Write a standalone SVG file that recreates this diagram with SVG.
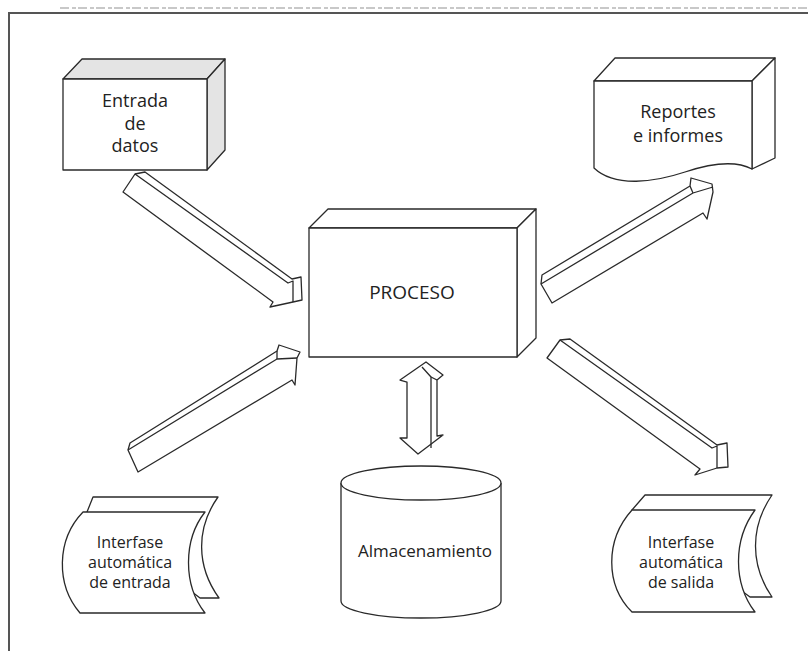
<svg xmlns="http://www.w3.org/2000/svg" width="808" height="651" viewBox="0 0 808 651">
  <style>
    .ln { fill: none; stroke: #2a2a2a; stroke-width: 1.3; stroke-linejoin: round; }
    .face { fill: #ffffff; stroke: #2a2a2a; stroke-width: 1.3; stroke-linejoin: round; }
    .shade { fill: #e4e4e4; stroke: #2a2a2a; stroke-width: 1.3; stroke-linejoin: round; }
    .lbl { font-family: "Open Sans", "Liberation Sans", sans-serif; fill: #222; text-anchor: middle; }
  </style>
  <rect width="808" height="651" fill="#ffffff"/>

  <!-- outer frame -->
  <g id="frame">
    <line x1="60" y1="8" x2="808" y2="8" stroke="#c8c8c8" stroke-width="2" stroke-dasharray="9 3 4 2"/>
    <polyline points="9,651 9,13 808,13" fill="none" stroke="#555" stroke-width="2"/>
  </g>

  <!-- data input block -->
  <g id="entrada">
    <polygon class="shade" points="63,79 82,59 225,59 207,79"/>
    <polygon class="shade" points="207,79 225,59 225,150 207,170"/>
    <rect class="face" x="63" y="79" width="144" height="91"/>
    <text class="lbl" font-size="18"><tspan x="135" y="107">Entrada</tspan><tspan x="135" y="130">de</tspan><tspan x="135" y="152">datos</tspan></text>
  </g>

  <!-- reports document block -->
  <g id="reportes">
    <polygon class="face" points="594,81 615,58 775,58 752,81"/>
    <polygon class="face" points="752,81 775,58 775,158 752,169"/>
    <path class="face" d="M594,81 H752 V169 C735,160 712,163 685,172 C655,182 615,188 594,168 Z"/>
    <text class="lbl" font-size="18"><tspan x="678" y="118">Reportes</tspan><tspan x="678" y="142">e informes</tspan></text>
  </g>

  <!-- central process block -->
  <g id="proceso">
    <polygon class="face" points="309,228 328,209 536,209 517,228"/>
    <polygon class="face" points="517,228 536,209 536,338 517,357"/>
    <rect class="face" x="309" y="228" width="208" height="129"/>
    <text class="lbl" x="412" y="299" font-size="19">PROCESO</text>
  </g>

  <!-- storage cylinder -->
  <g id="almacenamiento">
    <path class="face" d="M341,483 V601 A80,17 0 0 0 501,601 V483"/>
    <ellipse class="face" cx="421" cy="483" rx="80" ry="17"/>
    <text class="lbl" x="425" y="557" font-size="17">Almacenamiento</text>
  </g>

  <!-- automatic input interface -->
  <g id="interfase-entrada">
    <path class="face" d="M93,497 H218 C196,528 196,566 219,598 H200 L87,512 Z"/>
    <path class="face" d="M83,512 H205 C183,540 183,585 205,613 H80 C56,585 56,540 83,512 Z"/>
    <text class="lbl" font-size="16"><tspan x="130" y="548">Interfase</tspan><tspan x="130" y="568">automática</tspan><tspan x="130" y="588">de entrada</tspan></text>
  </g>

  <!-- automatic output interface -->
  <g id="interfase-salida">
    <path class="face" d="M645,495 H772 C750,527 750,565 772,597 H750 L632,510 Z"/>
    <path class="face" d="M632,510 H755 C733,540 733,583 755,612 H632 C605,585 605,540 632,510 Z"/>
    <text class="lbl" font-size="16"><tspan x="681" y="548">Interfase</tspan><tspan x="681" y="568">automática</tspan><tspan x="681" y="588">de salida</tspan></text>
  </g>

  <!-- 3D block arrows -->
  <g id="connectors">
    <!-- input data to process -->
    <g id="arrow-entrada">
      <polygon class="face" points="135,174 145,172 292,279 301,277 302,300 293,302 270,307 273,302 123,192"/>
      <polyline class="ln" points="135,174 288,283 293,281 293,302"/>
    </g>
    <!-- process to reports -->
    <g id="arrow-reportes">
      <polygon class="face" points="542,275 690,186 691,178 712,184 713,192 707,219 703,213 552,303 541,284"/>
      <polyline class="ln" points="541,284 693,193 713,187"/>
      <line class="ln" x1="690" y1="186" x2="693" y2="193"/>
    </g>
    <!-- input interface to process -->
    <g id="arrow-interfase-entrada">
      <polygon class="face" points="130,443 277,351 279,345 300,352 297,358 295,385 292,380 138,472 128,450"/>
      <polyline class="ln" points="128,450 277,359 297,358"/>
      <line class="ln" x1="277" y1="351" x2="277" y2="359"/>
    </g>
    <!-- process to output interface -->
    <g id="arrow-interfase-salida">
      <polygon class="face" points="560,340 570,339 717,445 727,443 728,467 717,468 695,475 700,469 547,358"/>
      <polyline class="ln" points="560,340 712,448 717,446 717,468"/>
    </g>
    <!-- process to storage, both ways -->
    <g id="arrow-almacenamiento">
      <polygon class="face" points="426,362 443,375 437,380 437,436 443,435 418,454 400,438 407,438 407,382 400,380"/>
      <polyline class="ln" points="422,367 431,377 431,448"/>
      <line class="ln" x1="431" y1="377" x2="437" y2="380"/>
    </g>
  </g>
</svg>
